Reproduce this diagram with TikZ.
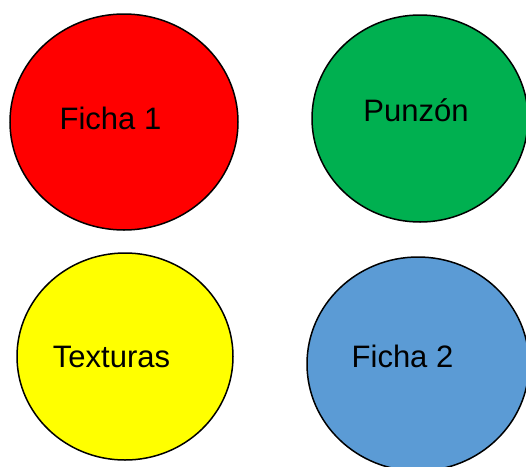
\documentclass[tikz,border=0pt]{standalone}
\usepackage{fontspec}
\setmainfont{Liberation Sans}
\usetikzlibrary{shapes.geometric}
\definecolor{cred}{HTML}{FF0000}
\definecolor{cgreen}{HTML}{00B050}
\definecolor{cyellow}{HTML}{FFFF00}
\definecolor{cblue}{HTML}{5B9BD5}
\begin{document}
\begin{tikzpicture}[x=1pt,y=-1pt,
  blob/.style={ellipse, draw=black, line width=1.5pt, inner sep=0pt},
  lbl/.style={anchor=base, inner sep=0pt, font=\fontsize{31}{37}\selectfont}]
\useasboundingbox (0,0) rectangle (526,466);
\begin{scope}
\clip (0,0) rectangle (526,466);
\node[blob, fill=cred, minimum width=228pt, minimum height=216pt] (f1) at (124,122) {};
\node[blob, fill=cgreen, minimum width=216pt, minimum height=207pt] (pz) at (420,118.5) {};
\node[blob, fill=cyellow, minimum width=216pt, minimum height=207pt] (tx) at (125,356.5) {};
\node[blob, fill=cblue, minimum width=222pt, minimum height=214pt] (f2) at (418,364) {};
\end{scope}
\node[lbl] (t1) at (110.5,129) {Ficha 1};
\node[lbl] (t2) at (416,121) {Punzón};
\node[lbl] (t3) at (111.5,367) {Texturas};
\node[lbl] (t4) at (402.5,367) {Ficha 2};
\end{tikzpicture}
\end{document}
